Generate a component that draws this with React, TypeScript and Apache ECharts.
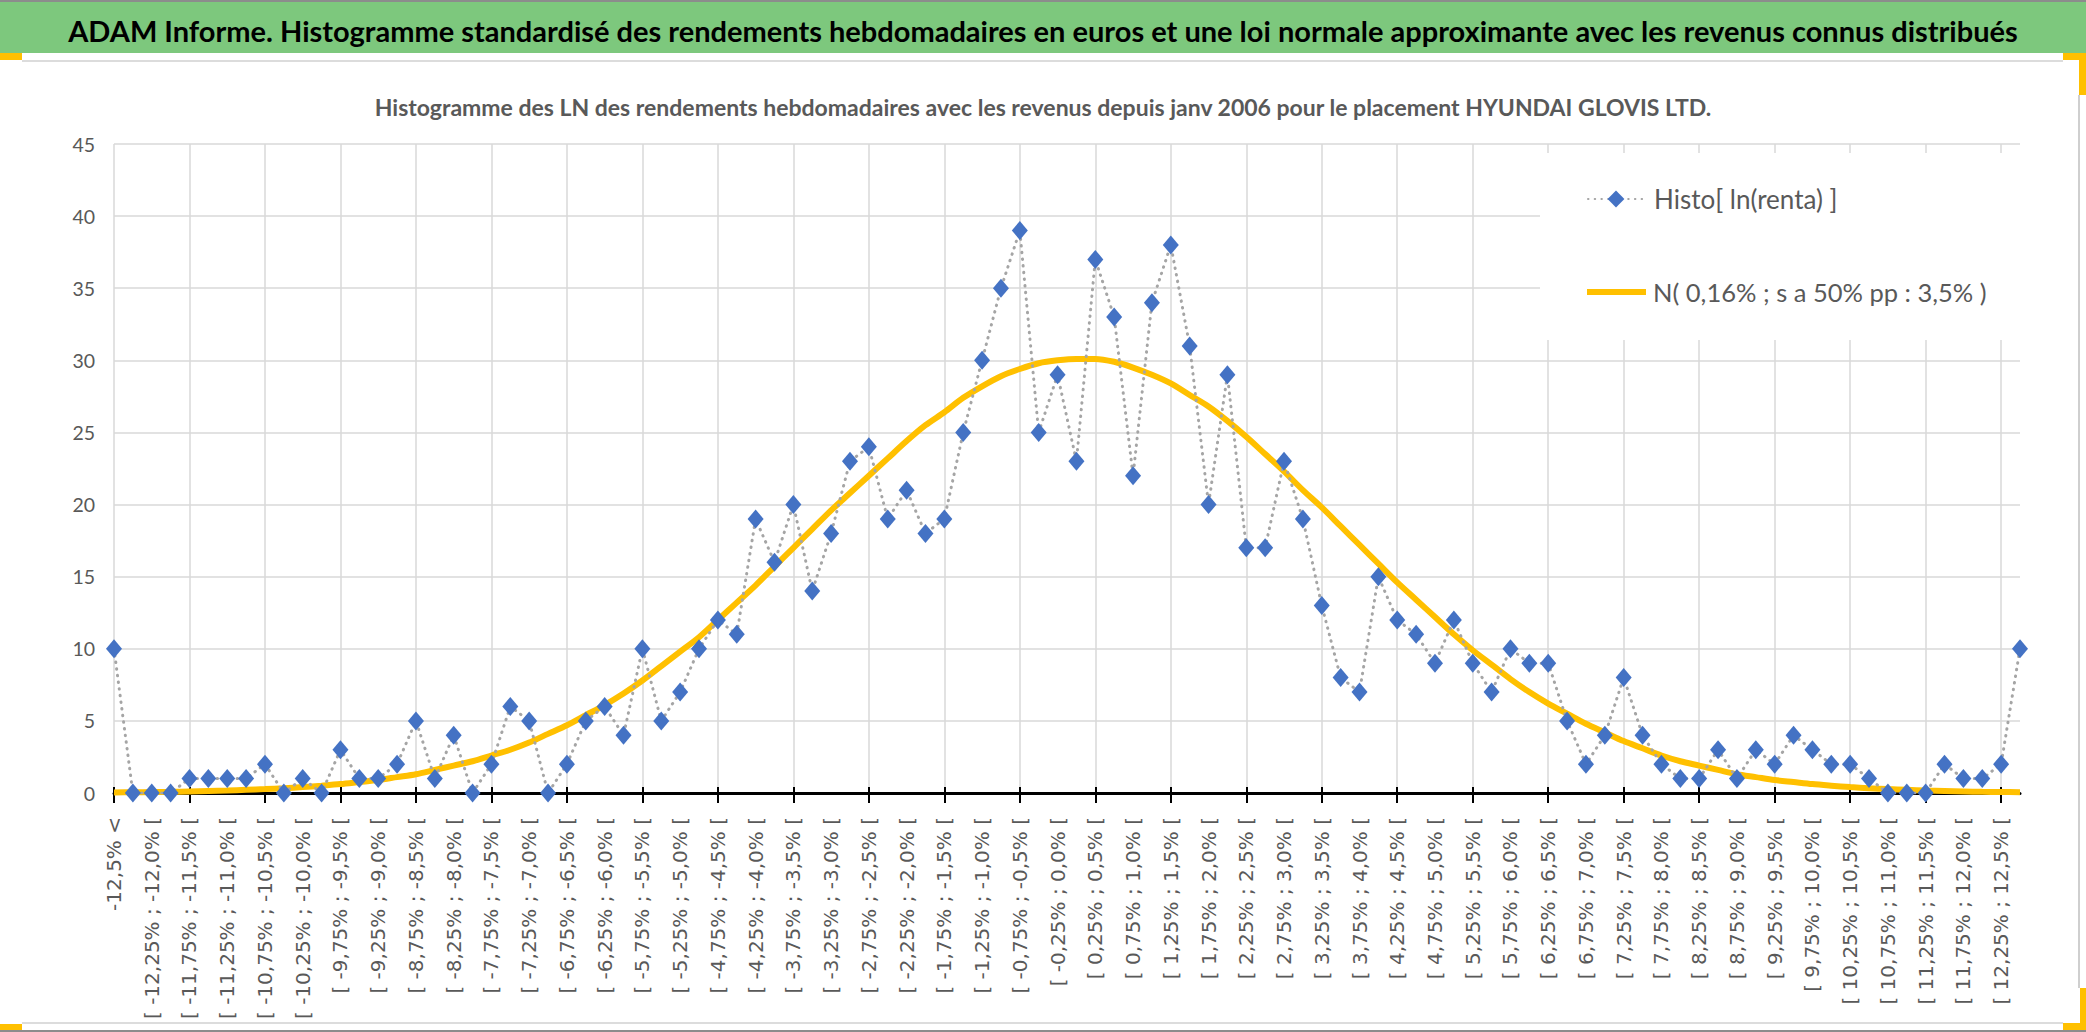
import React, { useEffect, useRef } from "react";
import * as echarts from "echarts";

const headerTitle =
  "ADAM Informe. Histogramme standardisé des rendements hebdomadaires en euros et une loi normale approximante avec les revenus connus distribués";
const chartTitle =
  "Histogramme des LN des rendements hebdomadaires avec les revenus depuis janv 2006 pour le placement HYUNDAI GLOVIS LTD.";
const seriesNames = ["Histo[ ln(renta) ]", "N( 0,16% ; s a 50% pp : 3,5% )"];

const categories = [
  "-12,5% <",
  "[ -12,5% ; -12,25% [", "[ -12,25% ; -12,0% [", "[ -12,0% ; -11,75% [", "[ -11,75% ; -11,5% [",
  "[ -11,5% ; -11,25% [", "[ -11,25% ; -11,0% [", "[ -11,0% ; -10,75% [", "[ -10,75% ; -10,5% [",
  "[ -10,5% ; -10,25% [", "[ -10,25% ; -10,0% [", "[ -10,0% ; -9,75% [", "[ -9,75% ; -9,5% [",
  "[ -9,5% ; -9,25% [", "[ -9,25% ; -9,0% [", "[ -9,0% ; -8,75% [", "[ -8,75% ; -8,5% [",
  "[ -8,5% ; -8,25% [", "[ -8,25% ; -8,0% [", "[ -8,0% ; -7,75% [", "[ -7,75% ; -7,5% [",
  "[ -7,5% ; -7,25% [", "[ -7,25% ; -7,0% [", "[ -7,0% ; -6,75% [", "[ -6,75% ; -6,5% [",
  "[ -6,5% ; -6,25% [", "[ -6,25% ; -6,0% [", "[ -6,0% ; -5,75% [", "[ -5,75% ; -5,5% [",
  "[ -5,5% ; -5,25% [", "[ -5,25% ; -5,0% [", "[ -5,0% ; -4,75% [", "[ -4,75% ; -4,5% [",
  "[ -4,5% ; -4,25% [", "[ -4,25% ; -4,0% [", "[ -4,0% ; -3,75% [", "[ -3,75% ; -3,5% [",
  "[ -3,5% ; -3,25% [", "[ -3,25% ; -3,0% [", "[ -3,0% ; -2,75% [", "[ -2,75% ; -2,5% [",
  "[ -2,5% ; -2,25% [", "[ -2,25% ; -2,0% [", "[ -2,0% ; -1,75% [", "[ -1,75% ; -1,5% [",
  "[ -1,5% ; -1,25% [", "[ -1,25% ; -1,0% [", "[ -1,0% ; -0,75% [", "[ -0,75% ; -0,5% [",
  "[ -0,5% ; -0,25% [", "[ -0,25% ; 0,0% [", "[ 0,0% ; 0,25% [", "[ 0,25% ; 0,5% [",
  "[ 0,5% ; 0,75% [", "[ 0,75% ; 1,0% [", "[ 1,0% ; 1,25% [", "[ 1,25% ; 1,5% [",
  "[ 1,5% ; 1,75% [", "[ 1,75% ; 2,0% [", "[ 2,0% ; 2,25% [", "[ 2,25% ; 2,5% [",
  "[ 2,5% ; 2,75% [", "[ 2,75% ; 3,0% [", "[ 3,0% ; 3,25% [", "[ 3,25% ; 3,5% [",
  "[ 3,5% ; 3,75% [", "[ 3,75% ; 4,0% [", "[ 4,0% ; 4,25% [", "[ 4,25% ; 4,5% [",
  "[ 4,5% ; 4,75% [", "[ 4,75% ; 5,0% [", "[ 5,0% ; 5,25% [", "[ 5,25% ; 5,5% [",
  "[ 5,5% ; 5,75% [", "[ 5,75% ; 6,0% [", "[ 6,0% ; 6,25% [", "[ 6,25% ; 6,5% [",
  "[ 6,5% ; 6,75% [", "[ 6,75% ; 7,0% [", "[ 7,0% ; 7,25% [", "[ 7,25% ; 7,5% [",
  "[ 7,5% ; 7,75% [", "[ 7,75% ; 8,0% [", "[ 8,0% ; 8,25% [", "[ 8,25% ; 8,5% [",
  "[ 8,5% ; 8,75% [", "[ 8,75% ; 9,0% [", "[ 9,0% ; 9,25% [", "[ 9,25% ; 9,5% [",
  "[ 9,5% ; 9,75% [", "[ 9,75% ; 10,0% [", "[ 10,0% ; 10,25% [", "[ 10,25% ; 10,5% [",
  "[ 10,5% ; 10,75% [", "[ 10,75% ; 11,0% [", "[ 11,0% ; 11,25% [", "[ 11,25% ; 11,5% [",
  "[ 11,5% ; 11,75% [", "[ 11,75% ; 12,0% [", "[ 12,0% ; 12,25% [", "[ 12,25% ; 12,5% [",
  "> 12,5%",
];

const histoValues = [
  10, 0, 0, 0, 1, 1, 1, 1, 2, 0,
  1, 0, 3, 1, 1, 2, 5, 1, 4, 0,
  2, 6, 5, 0, 2, 5, 6, 4, 10, 5,
  7, 10, 12, 11, 19, 16, 20, 14, 18, 23,
  24, 19, 21, 18, 19, 25, 30, 35, 39, 25,
  29, 23, 37, 33, 22, 34, 38, 31, 20, 29,
  17, 17, 23, 19, 13, 8, 7, 15, 12, 11,
  9, 12, 9, 7, 10, 9, 9, 5, 2, 4,
  8, 4, 2, 1, 1, 3, 1, 3, 2, 4,
  3, 2, 2, 1, 0, 0, 0, 2, 1, 1,
  2, 10,
];

const normalValues = [
  0.04, 0.05, 0.07, 0.08, 0.11, 0.14, 0.17, 0.22, 0.27, 0.33,
  0.41, 0.51, 0.62, 0.76, 0.9, 1.1, 1.3, 1.6, 1.9, 2.2,
  2.6, 3.0, 3.5, 4.1, 4.7, 5.4, 6.1, 6.9, 7.8, 8.8,
  9.8, 10.8, 12.0, 13.2, 14.4, 15.7, 17.0, 18.3, 19.6, 20.8,
  22.0, 23.2, 24.4, 25.5, 26.4, 27.4, 28.2, 28.9, 29.4, 29.8,
  30.0, 30.1, 30.1, 29.9, 29.5, 29.0, 28.4, 27.6, 26.8, 25.8,
  24.7, 23.5, 22.3, 21.0, 19.8, 18.5, 17.2, 15.9, 14.6, 13.4,
  12.2, 11.0, 9.9, 8.9, 7.9, 7.0, 6.2, 5.5, 4.8, 4.2,
  3.6, 3.1, 2.6, 2.2, 1.9, 1.6, 1.3, 1.1, 0.9, 0.76,
  0.62, 0.51, 0.41, 0.33, 0.27, 0.22, 0.17, 0.14, 0.11, 0.08,
  0.07, 0.05,
];

const yMin = 0;
const yMax = 45;
const yStep = 5;

export default function App() {
  const ref = useRef<HTMLDivElement>(null);

  useEffect(() => {
    if (!ref.current) return;
    const chart = echarts.init(ref.current, null, { renderer: "svg" });
    const labelColor = "#595959";
    const grid = "#d9d9d9";
    const yellow = "#FFC000";
    chart.setOption({
      animation: false,
      backgroundColor: "#ffffff",
      title: [
        {
          text: headerTitle,
          left: "center",
          top: 11,
          padding: 0,
          textStyle: {
            fontFamily: "Lato",
            fontWeight: "bold",
            fontSize: 29,
            lineHeight: 38,
            color: "#000000",
          },
        },
        {
          text: chartTitle,
          left: "center",
          top: 92,
          padding: 0,
          textStyle: {
            fontFamily: "Lato",
            fontWeight: "bold",
            fontSize: 23,
            lineHeight: 30,
            color: labelColor,
          },
        },
      ],
      graphic: [
        { type: "rect", z: 0, shape: { x: 0, y: 0, width: 2086, height: 53 }, style: { fill: "#7DC87D" } },
        { type: "rect", z: 0, shape: { x: 0, y: 0, width: 2086, height: 2 }, style: { fill: "#8c8c8c" } },
        { type: "rect", z: 0, shape: { x: 0, y: 53, width: 22, height: 7 }, style: { fill: yellow } },
        { type: "rect", z: 0, shape: { x: 22, y: 60, width: 2041, height: 2 }, style: { fill: "#dcdcdc" } },
        { type: "rect", z: 0, shape: { x: 2063, y: 53, width: 23, height: 7 }, style: { fill: yellow } },
        { type: "rect", z: 0, shape: { x: 2079, y: 53, width: 7, height: 42 }, style: { fill: yellow } },
        { type: "rect", z: 0, shape: { x: 2078, y: 95, width: 2, height: 893 }, style: { fill: "#cfcfcf" } },
        { type: "rect", z: 0, shape: { x: 22, y: 1022, width: 2041, height: 2 }, style: { fill: "#dcdcdc" } },
        { type: "rect", z: 0, shape: { x: 0, y: 1024, width: 22, height: 6 }, style: { fill: yellow } },
        { type: "rect", z: 0, shape: { x: 0, y: 1030, width: 2086, height: 2 }, style: { fill: "#8c8c8c" } },
        { type: "rect", z: 0, shape: { x: 2063, y: 1023, width: 23, height: 7 }, style: { fill: yellow } },
        { type: "rect", z: 0, shape: { x: 2080, y: 988, width: 6, height: 42 }, style: { fill: yellow } },
        { type: "rect", z: 1, shape: { x: 1540, y: 153, width: 490, height: 187 }, style: { fill: "#ffffff" } },
      ],
      legend: [
        {
          data: [seriesNames[0]],
          left: 1587,
          top: 186,
          padding: 0,
          itemWidth: 56,
          itemHeight: 21,
          selectedMode: false,
          textStyle: { fontFamily: "Lato", fontSize: 26, color: labelColor, padding: [0, 0, 0, 5] },
        },
        {
          data: [{ name: seriesNames[1], icon: "rect" }],
          left: 1587,
          top: 279,
          padding: 0,
          itemWidth: 59,
          itemHeight: 6,
          selectedMode: false,
          itemStyle: { color: yellow },
          textStyle: { fontFamily: "Lato", fontSize: 25.5, color: labelColor, padding: [0, 0, 0, 2] },
        },
      ],
      grid: { left: 114, right: 66, top: 144, bottom: 239, containLabel: false },
      xAxis: [
        {
          type: "category",
          data: categories,
          boundaryGap: false,
          position: "bottom",
          axisLine: { show: true, lineStyle: { color: "#000000", width: 3 } },
          axisTick: { show: true, interval: 3, length: 10, lineStyle: { color: "#000000", width: 2 } },
          axisLabel: {
            interval: 1,
            rotate: 90,
            margin: 24,
            fontFamily: "DejaVu Sans",
            fontSize: 20,
            color: labelColor,
          },
          splitLine: { show: true, interval: 3, lineStyle: { color: grid, width: 1.5 } },
        },
        {
          type: "category",
          data: categories,
          boundaryGap: false,
          position: "bottom",
          axisLine: { show: false },
          axisTick: { show: true, inside: true, interval: 3, length: 6, lineStyle: { color: "#000000", width: 2 } },
          axisLabel: { show: false },
          splitLine: { show: false },
        },
      ],
      yAxis: {
        type: "value",
        min: yMin,
        max: yMax,
        interval: yStep,
        axisLine: { show: false },
        axisTick: { show: false },
        axisLabel: { margin: 19, fontFamily: "Lato", fontSize: 19.5, color: labelColor },
        splitLine: { show: true, lineStyle: { color: grid, width: 1.5 } },
      },
      series: [
        {
          name: seriesNames[0],
          type: "line",
          data: histoValues,
          z: 4,
          symbol: "diamond",
          symbolSize: [16, 19],
          showSymbol: true,
          showAllSymbol: true,
          itemStyle: { color: "#4472C4" },
          lineStyle: { color: "#A5A5A5", width: 3, type: [0.5, 6.2], cap: "round" },
        },
        {
          name: seriesNames[1],
          type: "line",
          data: normalValues,
          z: 3,
          smooth: 0.3,
          symbol: "none",
          itemStyle: { color: yellow },
          lineStyle: { color: yellow, width: 6 },
        },
      ],
    });
    return () => chart.dispose();
  }, []);

  return (
    <div
      ref={ref}
      style={{ position: "fixed", left: 0, top: 0, width: 2086, height: 1032, background: "#ffffff" }}
    />
  );
}
